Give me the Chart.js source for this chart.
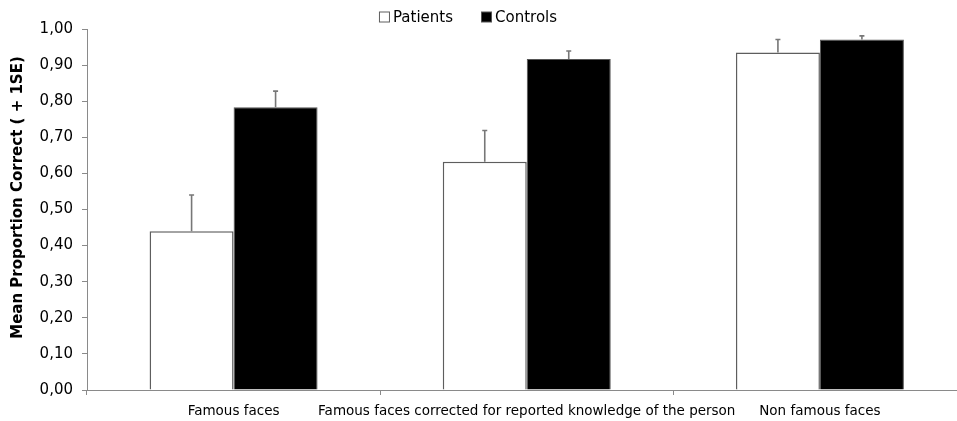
<!DOCTYPE html>
<html>
<head>
<meta charset="utf-8">
<script src="https://cdn.jsdelivr.net/npm/chart.js@4/dist/chart.umd.min.js"></script>
<style>
  html, body { margin: 0; padding: 0; background: #fff; overflow: hidden; }
  #wrap { width: 970px; height: 421px; }
</style>
</head>
<body>
<div id="wrap"><canvas id="c" width="970" height="421"></canvas></div>
<script>
// Face recognition accuracy by condition
const categories = [
  'Famous faces',
  'Famous faces corrected for reported knowledge of the person',
  'Non famous faces'
];
const patientsMean = [0.44, 0.632, 0.935];
const patientsSE   = [0.10, 0.087, 0.036];
const controlsMean = [0.783, 0.917, 0.971];
const controlsSE   = [0.045, 0.022, 0.010];
const yTicks = [0, 0.1, 0.2, 0.3, 0.4, 0.5, 0.6, 0.7, 0.8, 0.9, 1.0];
const yTitle = 'Mean Proportion Correct ( + 1SE)';

const FONT = "'DejaVu Sans', Verdana, sans-serif";
const AXIS_GREY = '#8a8a8a';
const ERR_GREY = '#777777';

// Upward-only error bars (+1 SE) drawn through the value scale
const errorBars = {
  id: 'errorBars',
  afterDatasetsDraw(chart) {
    const { ctx } = chart;
    const y = chart.scales.y;
    chart.data.datasets.forEach((ds, di) => {
      const meta = chart.getDatasetMeta(di);
      meta.data.forEach((bar, i) => {
        const top = y.getPixelForValue(ds.data[i] + ds.se[i]);
        ctx.save();
        ctx.strokeStyle = ERR_GREY;
        ctx.lineWidth = 1.6;
        ctx.beginPath();
        ctx.moveTo(bar.x, bar.y);
        ctx.lineTo(bar.x, top);
        ctx.moveTo(bar.x - 2.5, top);
        ctx.lineTo(bar.x + 2.5, top);
        ctx.stroke();
        ctx.restore();
      });
    });
  }
};

// Rotated value-axis title, sitting a little above the axis midpoint
const axisTitle = {
  id: 'axisTitle',
  afterDraw(chart) {
    const { ctx, chartArea } = chart;
    const cy = (chartArea.top + chartArea.bottom) / 2 - 12;
    ctx.save();
    ctx.translate(18, cy);
    ctx.rotate(-Math.PI / 2);
    ctx.font = 'bold 15px ' + FONT;
    ctx.fillStyle = '#000';
    ctx.textAlign = 'center';
    ctx.textBaseline = 'middle';
    ctx.fillText(yTitle, 0, 0);
    ctx.restore();
  }
};

// Compact legend: square swatch followed closely by its label
const topLegend = {
  id: 'topLegend',
  afterDraw(chart) {
    const { ctx } = chart;
    const box = 11, gapBoxText = 3, gapItems = 28, cy = 17, centerX = 468;
    ctx.save();
    ctx.font = '15px ' + FONT;
    ctx.textBaseline = 'middle';
    const items = chart.data.datasets.map(ds => ({
      label: ds.label, fill: ds.backgroundColor, stroke: ds.borderColor,
      w: box + gapBoxText + ctx.measureText(ds.label).width
    }));
    const total = items.reduce((s, it) => s + it.w, 0) + gapItems * (items.length - 1);
    let x = centerX - total / 2;
    items.forEach(it => {
      ctx.fillStyle = it.fill;
      ctx.fillRect(x + 0.5, cy - box / 2 + 0.5, box - 1, box - 1);
      ctx.strokeStyle = it.stroke;
      ctx.lineWidth = 1;
      ctx.strokeRect(x + 0.5, cy - box / 2 + 0.5, box - 1, box - 1);
      ctx.fillStyle = '#000';
      ctx.fillText(it.label, x + box + gapBoxText, cy + 1);
      x += it.w + gapItems;
    });
    ctx.restore();
  }
};

new Chart(document.getElementById('c'), {
  type: 'bar',
  data: {
    labels: categories,
    datasets: [
      {
        label: 'Patients',
        data: patientsMean,
        se: patientsSE,
        backgroundColor: '#ffffff',
        borderColor: '#5e5e5e',
        borderWidth: 1.5,
        borderSkipped: 'bottom'
      },
      {
        label: 'Controls',
        data: controlsMean,
        se: controlsSE,
        backgroundColor: '#000000',
        borderColor: '#555555',
        borderWidth: 1,
        borderSkipped: 'bottom'
      }
    ]
  },
  options: {
    responsive: false,
    animation: false,
    layout: { padding: { top: 29, right: 3.5, bottom: 0, left: 0 } },
    datasets: { bar: { barPercentage: 1.0, categoryPercentage: 0.573 } },
    plugins: {
      legend: { display: false },
      tooltip: { enabled: false }
    },
    scales: {
      x: {
        offset: true,
        afterFit(s) { s.height = 31; },
        grid: {
          offset: true,
          drawOnChartArea: false,
          drawTicks: true,
          tickLength: 5,
          color: AXIS_GREY
        },
        border: { color: AXIS_GREY, width: 1 },
        ticks: {
          color: '#000',
          font: { family: FONT, size: 13.5 },
          padding: 8,
          maxRotation: 0,
          autoSkip: false
        }
      },
      y: {
        min: 0,
        max: 1,
        afterFit(s) { s.width = 87; },
        afterBuildTicks(s) { s.ticks = yTicks.map(v => ({ value: v })); },
        grid: {
          drawOnChartArea: false,
          drawTicks: true,
          tickLength: 5,
          color: AXIS_GREY
        },
        border: { color: AXIS_GREY, width: 1 },
        ticks: {
          color: '#000',
          font: { family: FONT, size: 15 },
          padding: 9,
          callback: v => v.toFixed(2).replace('.', ',')
        }
      }
    }
  },
  plugins: [errorBars, axisTitle, topLegend]
});
</script>
</body>
</html>
